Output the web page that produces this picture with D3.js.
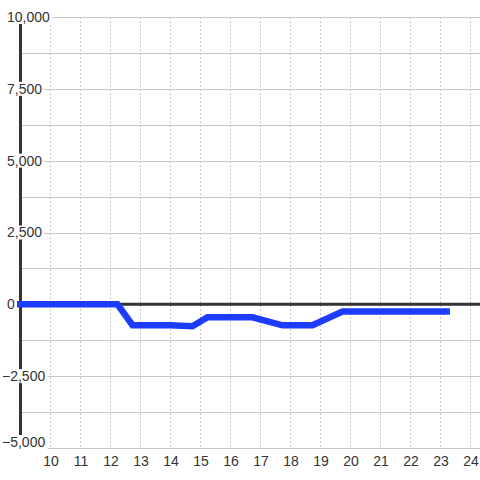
<!DOCTYPE html>
<html><head><meta charset="utf-8">
<script src="https://cdn.jsdelivr.net/npm/d3@7"></script>
<style>body{margin:0;background:#fff}svg{display:block}text{font-family:"Liberation Sans",Arial,sans-serif;font-size:14px;fill:#333}</style>
</head><body><svg id="c" width="480" height="480"></svg>
<script>
const times = [8.9, 12.25, 12.75, 14, 14.75, 15.25, 16.75, 17.75, 18.75, 19.75, 23.33];
const values = [0, 0, -725, -725, -760, -450, -450, -730, -730, -250, -250];
const yTicks = [10000, 7500, 5000, 2500, 0, -2500, -5000];
const yMinor = [8750, 6250, 3750, 1250, -1250, -3750];
const xTicks = [10,11,12,13,14,15,16,17,18,19,20,21,22,23,24];

const svg = d3.select("#c");
const x = d3.scaleLinear().domain([9, 24 + 1/3]).range([20, 480]);
const y = d3.scaleLinear().domain([-5000, 10000]).range([448, 17]);
const fmt = d3.format(",");

// vertical dashed grid
svg.append("g").selectAll("line").data(xTicks).join("line")
  .attr("x1", d => x(d) + 0.5).attr("x2", d => x(d) + 0.5)
  .attr("y1", y(10000)).attr("y2", y(-5000))
  .attr("stroke", "#c8c8c8").attr("stroke-dasharray", "2,2");

// horizontal grid
svg.append("g").selectAll("line").data(yTicks.concat(yMinor).filter(d => d !== 0)).join("line")
  .attr("x1", x(9)).attr("x2", 480)
  .attr("y1", d => Math.round(y(d)) + 0.5).attr("y2", d => Math.round(y(d)) + 0.5)
  .attr("stroke", "#c8c8c8");

// y axis line
svg.append("line").attr("x1", x(9) + 0.5).attr("x2", x(9) + 0.5)
  .attr("y1", y(10000)).attr("y2", y(-5000))
  .attr("stroke", "#333").attr("stroke-width", 3);

// zero line
svg.append("line").attr("x1", x(9)).attr("x2", 480)
  .attr("y1", y(0)).attr("y2", y(0))
  .attr("stroke", "#333").attr("stroke-width", 3);

// series line
const line = d3.line().x((d, i) => x(times[i])).y(d => y(d));
svg.append("path").datum(values).attr("d", line)
  .attr("fill", "none").attr("stroke", "#1e3cff").attr("stroke-width", 6.5)
  .attr("stroke-linejoin", "miter");

// y labels with white background
const yl = svg.append("g").selectAll("g").data(yTicks).join("g")
  .attr("transform", d => `translate(${d < 0 ? 2 : 7},${Math.min(y(d), 442)})`);
yl.append("rect").attr("fill", "#fff");
yl.append("text").attr("dy", "0.35em").text(d => fmt(d));
yl.each(function() {
  const b = d3.select(this).select("text").node().getBBox();
  d3.select(this).select("rect")
    .attr("x", b.x - 1).attr("y", -7).attr("width", b.width + 3).attr("height", 14);
});

// x labels
svg.append("g").selectAll("text").data(xTicks).join("text")
  .attr("x", d => x(d) + 1).attr("y", 461).attr("dy", "0.35em")
  .attr("text-anchor", "middle").text(d => d);
</script></body></html>
